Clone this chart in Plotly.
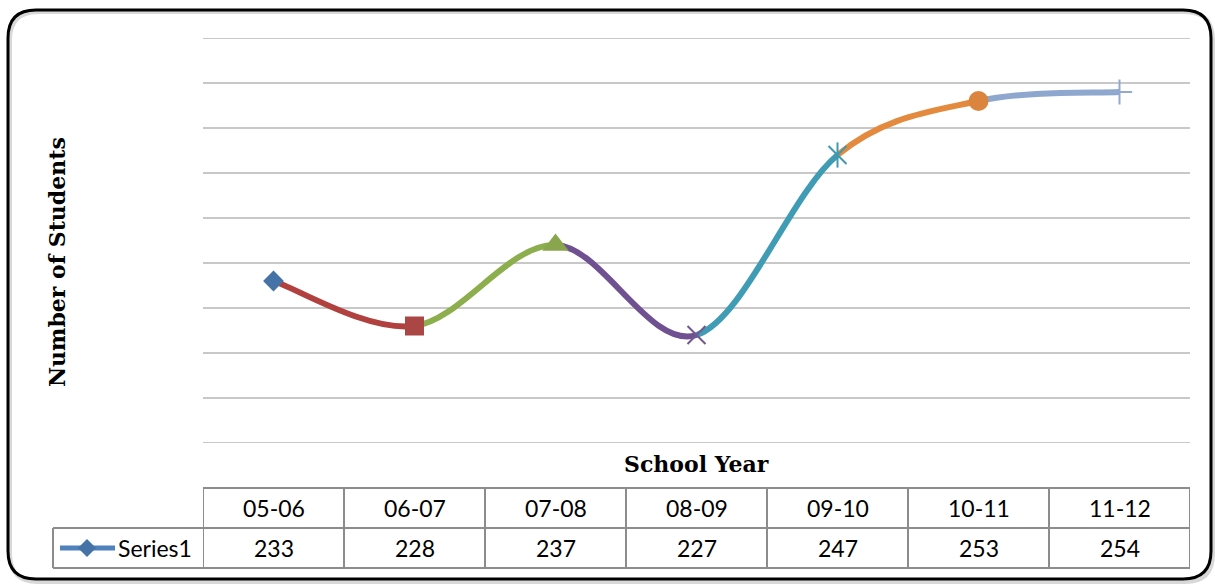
import plotly.graph_objects as go

# ---- data ----
school_years = ["05-06", "06-07", "07-08", "08-09", "09-10", "10-11", "11-12"]
students = [233, 228, 237, 227, 247, 253, 254]
series_name = "Series1"
y_ticks = [215, 220, 225, 230, 235, 240, 245, 250, 255, 260]

point_colors = ["#4572A7", "#AA4643", "#89A54E", "#71588F", "#4198AF", "#DB843D", "#93A9CF"]
point_symbols = ["diamond", "square", "triangle-up", "x-thin-open", "asterisk-open", "circle", "cross-thin-open"]
point_sizes = [16, 19, 23, 18, 18, 20, 18]
seg_colors = ["#B0413E", "#8CAE4C", "#6F5191", "#3F9CB4", "#E38A3E", "#8EA7CF"]

W, H = 1215, 584
ML, MR, MT, MB = 203, 25, 38, 141
PW, PH = W - ML - MR, H - MT - MB


def px(x):
    return (x - ML) / PW


def py(y):
    return (H - MB - y) / PH


xs = list(range(len(school_years)))
fig = go.Figure()

shapes = []
# horizontal gridlines
for t in y_ticks:
    shapes.append(dict(type="line", xref="paper", yref="y", x0=0, x1=1, y0=t, y1=t, layer="below",
                       line=dict(color="#C8C8C8", width=2)))

# smoothed segments (Catmull-Rom style bezier through data points)
n = len(students)
for i in range(n - 1):
    p0 = (xs[max(i - 1, 0)], students[max(i - 1, 0)])
    p1 = (xs[i], students[i])
    p2 = (xs[i + 1], students[i + 1])
    p3 = (xs[min(i + 2, n - 1)], students[min(i + 2, n - 1)])
    c1 = (p1[0] + (p2[0] - p0[0]) / 6, p1[1] + (p2[1] - p0[1]) / 6)
    c2 = (p2[0] - (p3[0] - p1[0]) / 6, p2[1] - (p3[1] - p1[1]) / 6)
    path = f"M {p1[0]},{p1[1]} C {c1[0]},{c1[1]} {c2[0]},{c2[1]} {p2[0]},{p2[1]}"
    shapes.append(dict(type="path", xref="x", yref="y", path=path, layer="between",
                       line=dict(color=seg_colors[i], width=6)))

# markers
for i in range(n):
    sym = point_symbols[i]
    if sym == "asterisk-open":
        for s in ["x-thin-open", "line-ns-open"]:
            fig.add_trace(go.Scatter(x=[xs[i]], y=[students[i]], mode="markers", showlegend=False,
                                     hoverinfo="skip",
                                     marker=dict(symbol=s, size=point_sizes[i],
                                                 color=point_colors[i],
                                                 line=dict(color=point_colors[i], width=2))))
        continue
    open_sym = sym.endswith("-open")
    fig.add_trace(go.Scatter(
        x=[xs[i]], y=[students[i]], mode="markers", showlegend=False,
        marker=dict(symbol=sym, size=point_sizes[i], color=point_colors[i],
                    line=dict(color=point_colors[i], width=2 if open_sym else 0))))

# table lines
tbl_col = "#8C8C8C"
top, mid, bot = 488, 528, 568
for k in range(n + 1):
    shapes.append(dict(type="line", xref="x", yref="paper", x0=k - 0.5, x1=k - 0.5,
                       y0=py(top), y1=py(bot), line=dict(color=tbl_col, width=2)))
shapes.append(dict(type="line", xref="paper", yref="paper", x0=0, x1=1, y0=py(top), y1=py(top),
                   line=dict(color=tbl_col, width=2)))
for yy in (mid, bot):
    shapes.append(dict(type="line", xref="paper", yref="paper", x0=px(53), x1=1, y0=py(yy), y1=py(yy),
                       line=dict(color=tbl_col, width=2)))
shapes.append(dict(type="line", xref="paper", yref="paper", x0=px(53), x1=px(53), y0=py(mid), y1=py(bot),
                   line=dict(color=tbl_col, width=2)))

# legend key
shapes.append(dict(type="line", xref="paper", yref="paper", x0=px(60), x1=px(115), y0=py(548), y1=py(548),
                   line=dict(color="#4F81BD", width=5)))
dx, dy = 9, 9
dpath = (f"M {px(87)},{py(548 - dy)} L {px(87 + dx)},{py(548)} L {px(87)},{py(548 + dy)} "
         f"L {px(87 - dx)},{py(548)} Z")
shapes.append(dict(type="path", xref="paper", yref="paper", path=dpath,
                   fillcolor="#4572A7", line=dict(color="#4572A7", width=0)))

# outer rounded border with shadow
def rrect(x0, y0, x1, y1, r):
    return (f"M {px(x0 + r)},{py(y0)} L {px(x1 - r)},{py(y0)} "
            f"Q {px(x1)},{py(y0)} {px(x1)},{py(y0 + r)} L {px(x1)},{py(y1 - r)} "
            f"Q {px(x1)},{py(y1)} {px(x1 - r)},{py(y1)} L {px(x0 + r)},{py(y1)} "
            f"Q {px(x0)},{py(y1)} {px(x0)},{py(y1 - r)} L {px(x0)},{py(y0 + r)} "
            f"Q {px(x0)},{py(y0)} {px(x0 + r)},{py(y0)} Z")

shapes.insert(0, dict(type="path", xref="paper", yref="paper", path=rrect(10, 12, 1213, 582, 28),
                      layer="below", line=dict(color="#D8D8D8", width=4)))
shapes.append(dict(type="path", xref="paper", yref="paper", path=rrect(8, 10, 1211, 579, 28),
                   line=dict(color="#000000", width=3)))

annotations = []
tfont = dict(family="Lato, 'Liberation Sans', sans-serif", size=23, color="#000000")
for i, (cat, v) in enumerate(zip(school_years, students)):
    annotations.append(dict(x=xs[i], y=py((top + mid) / 2), xref="x", yref="paper", text=cat,
                            showarrow=False, font=tfont, xanchor="center", yanchor="middle"))
    annotations.append(dict(x=xs[i], y=py((mid + bot) / 2), xref="x", yref="paper", text=str(v),
                            showarrow=False, font=tfont, xanchor="center", yanchor="middle"))
annotations.append(dict(x=px(116), y=py(548), xref="paper", yref="paper", text=series_name,
                        showarrow=False, font=tfont, xanchor="left", yanchor="middle"))
sfont = dict(family="'DejaVu Serif', serif", size=22, color="#000000")
annotations.append(dict(x=0.5, y=py(464), xref="paper", yref="paper", text="<b>School Year</b>",
                        showarrow=False, font=sfont, xanchor="center", yanchor="middle"))
annotations.append(dict(x=px(57), y=py(262), xref="paper", yref="paper", text="<b>Number of Students</b>",
                        showarrow=False, font=sfont, textangle=-90, xanchor="center", yanchor="middle"))

fig.update_layout(
    width=W, height=H,
    margin=dict(l=ML, r=MR, t=MT, b=MB),
    paper_bgcolor="white", plot_bgcolor="white",
    xaxis=dict(range=[-0.5, 6.5], showgrid=False, zeroline=False, showticklabels=False,
               ticks="", showline=False),
    yaxis=dict(range=[215, 260], tickvals=y_ticks, showticklabels=False, ticks="",
               showgrid=False, zeroline=False, showline=False),
    shapes=shapes, annotations=annotations, showlegend=False,
)

fig.write_html("out.html", post_script="document.body.style.margin='0';",
               config={"displayModeBar": False})
